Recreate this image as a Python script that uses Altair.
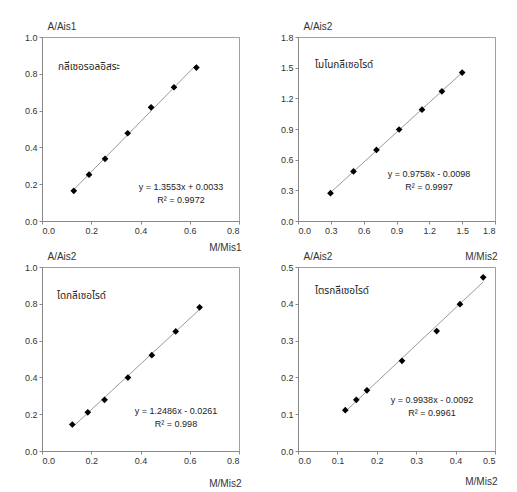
import altair as alt
import pandas as pd

FONT = "Liberation Sans, Arial, Noto Sans Thai, sans-serif"

# Panel 1: free glycerol
x1 = [0.129, 0.191, 0.256, 0.348, 0.443, 0.536, 0.627]
y1 = [0.164, 0.252, 0.338, 0.477, 0.618, 0.727, 0.834]
# Panel 2: monoglyceride
x2 = [0.297, 0.507, 0.717, 0.924, 1.133, 1.315, 1.500]
y2 = [0.272, 0.485, 0.695, 0.895, 1.089, 1.269, 1.452]
# Panel 3: diglyceride
x3 = [0.123, 0.186, 0.254, 0.349, 0.446, 0.543, 0.640]
y3 = [0.144, 0.210, 0.278, 0.399, 0.521, 0.650, 0.781]
# Panel 4: triglyceride
x4 = [0.120, 0.148, 0.175, 0.264, 0.352, 0.411, 0.470]
y4 = [0.111, 0.139, 0.165, 0.245, 0.326, 0.399, 0.472]

labels = ["กลีเซอรอลอิสระ", "โมโนกลีเซอไรด์", "ไดกลีเซอไรด์", "ไตรกลีเซอไรด์"]
equations = ["y = 1.3553x + 0.0033", "y = 0.9758x - 0.0098",
             "y = 1.2486x - 0.0261", "y = 0.9938x - 0.0092"]
r2s = ["R² = 0.9972", "R² = 0.9997", "R² = 0.998", "R² = 0.9961"]
y_titles = ["A/Ais1", "A/Ais2", "A/Ais2", "A/Ais2"]
x_titles = ["M/Mis1", "M/Mis2", "M/Mis2", "M/Mis2"]
x_ticks = [[0, 0.2, 0.4, 0.6, 0.8], [0, 0.3, 0.6, 0.9, 1.2, 1.5, 1.8],
           [0, 0.2, 0.4, 0.6, 0.8], [0, 0.1, 0.2, 0.3, 0.4, 0.5]]
y_ticks = [[0, 0.2, 0.4, 0.6, 0.8, 1.0], [0, 0.3, 0.6, 0.9, 1.2, 1.5, 1.8],
           [0, 0.2, 0.4, 0.6, 0.8, 1.0], [0, 0.1, 0.2, 0.3, 0.4, 0.5]]

W, H = 197, 184

# layout of annotations (pixel offsets inside each plot)
label_pos = [(16, 30), (17, 28), (15, 29), (17, 24)]
eq_pos = [(139, 150), (131, 137), (134, 144), (134, 133)]
xtitle_y = [26, 35, 32, 30]


def panel(i, xs, ys):
    df = pd.DataFrame({"x": xs, "y": ys})
    xt, yt = x_ticks[i], y_ticks[i]
    xenc = alt.X("x:Q", scale=alt.Scale(domain=[xt[0], xt[-1]], nice=False),
                 axis=alt.Axis(values=xt, format=".1f", title=x_titles[i],
                               titleAlign="right", titleX=W + 2, titleY=xtitle_y[i],
                               titleBaseline="middle"))
    yenc = alt.Y("y:Q", scale=alt.Scale(domain=[yt[0], yt[-1]], nice=False),
                 axis=alt.Axis(values=yt, format=".1f", title=y_titles[i],
                               titleAngle=0, titleAlign="left", titleX=5, titleY=-11,
                               titleBaseline="middle"))
    base = alt.Chart(df)
    line = base.transform_regression("x", "y").mark_line(
        color="#9a9a9a", strokeWidth=1).encode(x=xenc, y=yenc)
    pts = base.mark_point(shape="diamond", filled=True, color="black",
                          size=45, opacity=1).encode(x=xenc, y=yenc)
    lab = alt.Chart(pd.DataFrame({"t": [labels[i]]})).mark_text(
        align="left", baseline="middle", fontSize=10, font=FONT, color="#222"
    ).encode(x=alt.value(label_pos[i][0]), y=alt.value(label_pos[i][1]), text="t:N")
    eq = alt.Chart(pd.DataFrame({"t": [equations[i]]})).mark_text(
        align="center", baseline="middle", fontSize=9, font=FONT, color="#222"
    ).encode(x=alt.value(eq_pos[i][0]), y=alt.value(eq_pos[i][1]), text="t:N")
    r2 = alt.Chart(pd.DataFrame({"t": [r2s[i]]})).mark_text(
        align="center", baseline="middle", fontSize=9, font=FONT, color="#222"
    ).encode(x=alt.value(eq_pos[i][0]), y=alt.value(eq_pos[i][1] + 13), text="t:N")
    return alt.layer(line, pts, lab, eq, r2).properties(width=W, height=H)


charts = [panel(0, x1, y1), panel(1, x2, y2), panel(2, x3, y3), panel(3, x4, y4)]

chart = alt.concat(*charts, columns=2, spacing={"row": 46, "column": 59},
                   bounds="flush").properties(
    padding={"left": 15, "top": 12, "right": 5, "bottom": 5},
    background="white",
).configure_view(stroke="#a0a0a0", strokeWidth=1).configure_axis(
    grid=False, domainColor="#888888", tickColor="#888888", tickSize=3,
    labelFont=FONT, labelFontSize=9, labelColor="#333333", labelPadding=2,
    titleFont=FONT, titleFontSize=10, titleFontWeight="normal", titleColor="#333333",
)

chart.save("out.html", embed_options={"renderer": "svg", "actions": False})
